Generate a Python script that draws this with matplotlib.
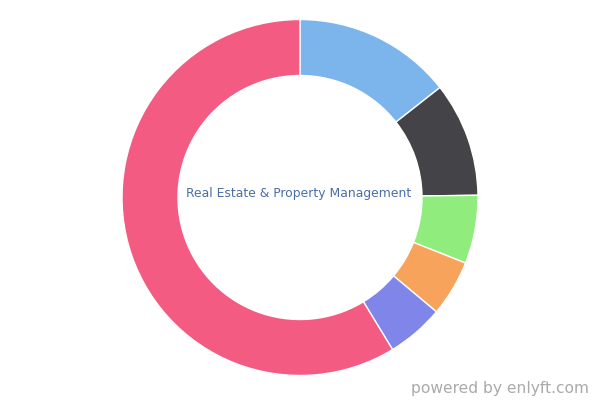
import matplotlib
matplotlib.use("Agg")
import matplotlib.pyplot as plt

# share of each segment, clockwise from 12 o'clock
labels = ["Segment 1", "Segment 2", "Segment 3", "Segment 4", "Segment 5",
          "Real Estate & Property Management"]
values = [14.4, 10.4, 6.2, 5.1, 5.2, 58.7]
colors = ["#7cb5ec", "#434348", "#90ed7d", "#f7a35c", "#8085e9", "#f45b82"]

fig = plt.figure(figsize=(6, 4), dpi=100)
ax = fig.add_axes([0, 0, 1, 1])

ax.pie(values, colors=colors, startangle=90, counterclock=False,
       center=(300, 202.5), radius=178, frame=True,
       wedgeprops=dict(width=56, edgecolor="white", linewidth=1))

ax.text(299, 206, "Real Estate & Property Management", ha="center", va="center",
        fontsize=8.9, color="#4a6ea8")
ax.text(589, 11, "powered by enlyft.com", ha="right", va="center",
        fontsize=11.2, color="#aaaaaa")

ax.set_xlim(0, 600)
ax.set_ylim(0, 400)
ax.set_aspect("equal", adjustable="box")
ax.axis("off")

fig.savefig("out.png", dpi=100, facecolor="white")
